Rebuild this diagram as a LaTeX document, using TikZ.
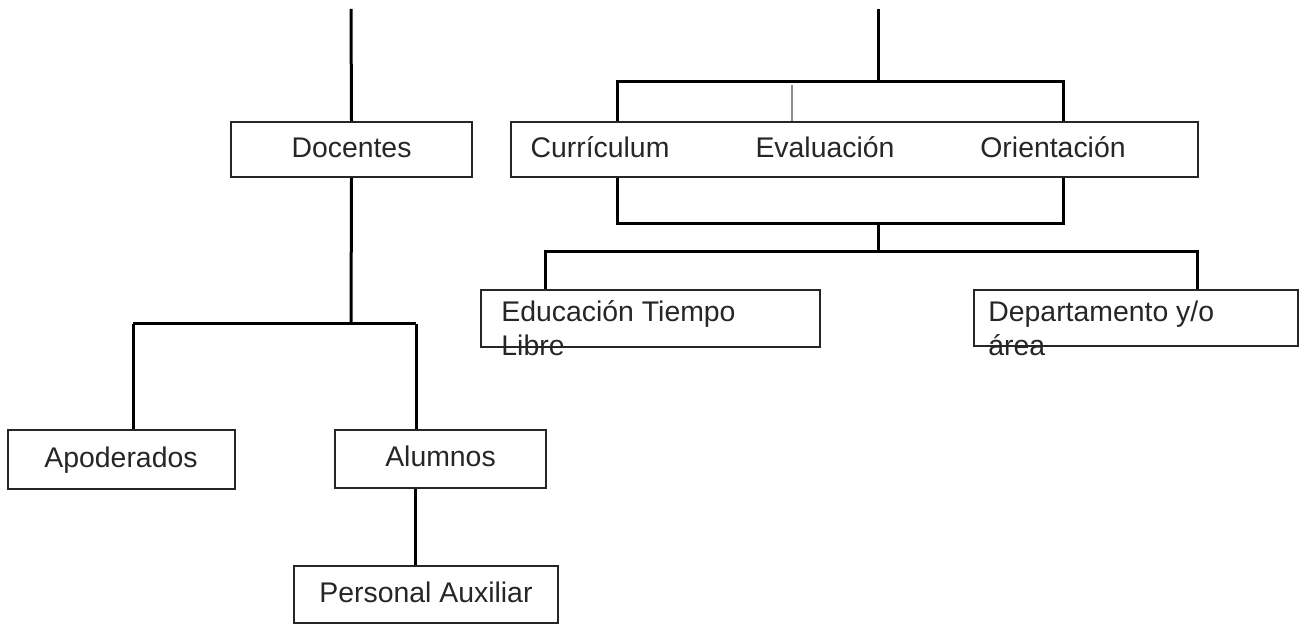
\documentclass[tikz,border=0pt]{standalone}
\usepackage{fontspec}
\setmainfont{Liberation Sans}
\begin{document}
\begin{tikzpicture}[x=0.5pt,y=-0.5pt,
  box/.style={draw=black!85,line width=1pt,inner sep=0pt,fill=white},
  txt/.style={font=\fontsize{14.2}{17}\selectfont,text=black!85,inner sep=0pt,text height=10.2pt,text depth=2.5pt},
  ptxt/.style={font=\fontsize{14.2}{17}\selectfont,text=black!85,inner sep=0pt},
  conn/.style={line width=1.5pt,black},
  thin/.style={line width=1pt,black!45}]
\useasboundingbox (0,0) rectangle (1306,625);
% boxes
\node[box,minimum width=120.5pt,minimum height=27.5pt] (doc) at (351.5,149.5) {};
\node[txt] at (doc.center) {Docentes};
\node[box,minimum width=113.5pt,minimum height=29.5pt] (api) at (121,459.5) {};
\node[txt] at (api.center) {Apoderados};
\node[box,minimum width=105.5pt,minimum height=29pt] (alu) at (440.5,459) {};
\node[txt] at (alu.center) {Alumnos};
\node[box,minimum width=132pt,minimum height=28.5pt] (per) at (426,594.5) {};
\node[txt] at (per.center) {Personal Auxiliar};
\node[box,minimum width=343.5pt,minimum height=27.5pt] (area) at (854.5,149.5) {};
\node[txt] (cur) at (600,149.5) {Currículum};
\node[txt] (eva) at (825,149.5) {Evaluación};
\node[txt] (ori) at (1053,149.5) {Orientación};
\node[box,minimum width=169.5pt,minimum height=28.5pt] (edu) at (650.5,318.5) {};
\node[box,minimum width=162pt,minimum height=28pt] (dep) at (1136,318) {};
\node[ptxt,anchor=base west,align=left] (edut) at (501,356) {Educación Tiempo\\Libre};
\node[ptxt,anchor=base west,align=left] (dept) at (988,356) {Departamento y/o\\área};
% coordinates
\coordinate (topL) at (351,9);
\coordinate (busL) at (351,324);
\coordinate (busLa) at (133,324);
\coordinate (busLb) at (416,324);
\coordinate (topR) at (878,9);
\coordinate (busR) at (878,82);
\coordinate (busRa) at (617,82);
\coordinate (busRc) at (1063,82);
\coordinate (busRb) at (792,85);
\coordinate (midR) at (878,224);
\coordinate (midRa) at (617,224);
\coordinate (midRc) at (1063,224);
\coordinate (lowR) at (878,252);
\coordinate (lowRa) at (545,252);
\coordinate (lowRb) at (1197,252);
% left connectors
\draw[conn] (topL) -- (doc.north);
\draw[conn] (doc.south) -- (busL);
\draw[conn] (busLa) -- (busLb);
\draw[conn] (busLa) -- (busLa |- api.north);
\draw[conn] (busLb) -- (busLb |- alu.north);
\draw[conn] (alu.south -| 415,0) -- (per.north -| 415,0);
% right connectors
\draw[conn] (topR) -- (busR);
\draw[conn] (busRa |- area.north) -- (busRa) -- (busRc) -- (busRc |- area.north);
\draw[thin] (busRb) -- (busRb |- area.north);
\draw[conn] (midRa |- area.south) -- (midRa) -- (midRc) -- (midRc |- area.south);
\draw[conn] (midR) -- (lowR);
\draw[conn] (lowRa |- edu.north) -- (lowRa) -- (lowRb) -- (lowRb |- dep.north);
\end{tikzpicture}
\end{document}
